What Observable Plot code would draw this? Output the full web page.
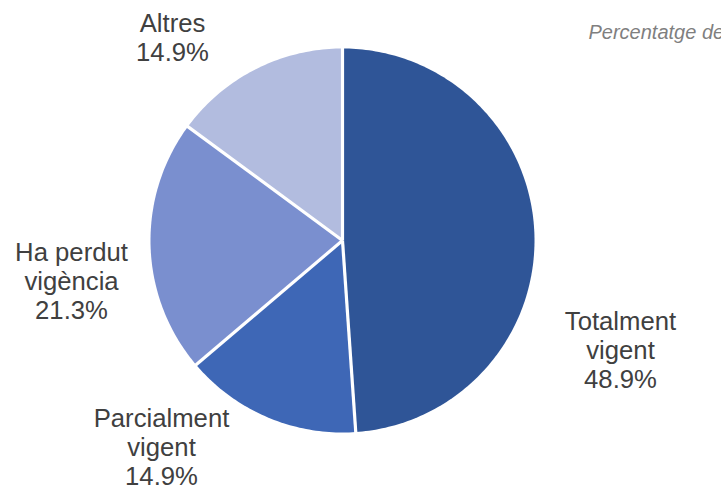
<!DOCTYPE html>
<html>
<head>
<meta charset="utf-8">
<script src="https://cdn.jsdelivr.net/npm/d3@7"></script>
<script src="https://cdn.jsdelivr.net/npm/@observablehq/plot@0.6"></script>
<style>
  html, body { margin: 0; padding: 0; background: #fff; overflow: hidden; }
  #chart { width: 721px; height: 487px; }
</style>
</head>
<body>
<div id="chart"></div>
<script>
// Data (clockwise from 12 o'clock)
const categories = ["Totalment vigent", "Parcialment vigent", "Ha perdut vigència", "Altres"];
const labelLines = [["Totalment", "vigent"], ["Parcialment", "vigent"], ["Ha perdut", "vigència"], ["Altres"]];
const values = [48.9, 14.9, 21.3, 14.9];
const colors = ["#2F5597", "#3E67B6", "#7A8FCF", "#B2BCDF"];
const noteText = "Percentatge de normes";

// Layout
const W = 721, H = 487;
const cx = 342, cy = 240, R = 192;
const labelPos = { // pixel anchors: centre x, top of first line
  "Totalment vigent": [620, 309],
  "Parcialment vigent": [161, 406],
  "Ha perdut vigència": [71, 240],
  "Altres": [172, 11]
};

const total = d3.sum(values);
let acc = 0;
const slices = categories.map((c, i) => {
  const a0 = acc / total * 2 * Math.PI;
  acc += values[i];
  const a1 = acc / total * 2 * Math.PI;
  return {name: c, value: values[i], a0, a1, lines: labelLines[i]};
});

// polygon points in unit data space (y up)
const polyPts = [];
for (const s of slices) {
  polyPts.push({name: s.name, x: 0, y: 0});
  const n = Math.max(2, Math.ceil((s.a1 - s.a0) / (Math.PI / 180)));
  for (let k = 0; k <= n; k++) {
    const a = s.a0 + (s.a1 - s.a0) * k / n;
    polyPts.push({name: s.name, x: Math.sin(a), y: Math.cos(a)});
  }
  polyPts.push({name: s.name, x: 0, y: 0});
}
const seps = slices.map(s => ({x1: 0, y1: 0, x2: Math.sin(s.a0) * 1.02, y2: Math.cos(s.a0) * 1.02}));

const toX = px => (px - cx) / R;
const toY = py => (cy - py) / R;
const labels = slices.map(s => ({
  text: [...s.lines, s.value.toFixed(1) + "%"].join("\n"),
  x: toX(labelPos[s.name][0]),
  y: toY(labelPos[s.name][1])
}));

const chart = Plot.plot({
  width: W,
  height: H,
  marginLeft: cx - R,
  marginRight: W - (cx + R),
  marginTop: cy - R,
  marginBottom: H - (cy + R),
  x: {domain: [-1, 1], axis: null},
  y: {domain: [-1, 1], axis: null},
  color: {domain: categories, range: colors},
  style: {fontFamily: "'Liberation Sans', Arial, sans-serif", background: "white", overflow: "hidden"},
  marks: [
    Plot.line(polyPts, {x: "x", y: "y", z: "name", fill: "name", stroke: "none", curve: "linear", clip: false}),
    Plot.link(seps, {x1: "x1", y1: "y1", x2: "x2", y2: "y2", stroke: "white", strokeWidth: 3.2, clip: false}),
    Plot.text(labels, {
      x: "x", y: "y", text: "text",
      lineAnchor: "top", lineHeight: 1.13,
      fontSize: 25.7, fill: "#404040", textAnchor: "middle", clip: false
    }),
    Plot.text([noteText], {
      x: toX(588), y: toY(38), text: d => d,
      lineAnchor: "bottom", textAnchor: "start",
      fontSize: 20, fontStyle: "italic", fill: "#7F7F7F", clip: false
    })
  ]
});
document.getElementById("chart").appendChild(chart);
</script>
</body>
</html>
